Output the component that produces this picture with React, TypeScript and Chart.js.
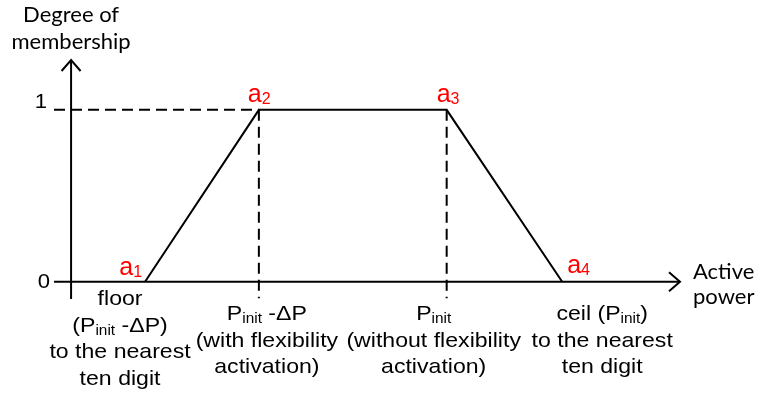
import React, { useEffect, useRef } from 'react';
import { Chart, registerables } from 'chart.js';

Chart.register(...registerables);

// ---------- data ----------
const pointNames = ['a', 'a', 'a', 'a'];
const pointSubs = ['1', '2', '3', '4'];
const activePower = [1.3, 3.3, 6.6, 8.63];
const membership = [0, 1, 1, 0];
const yTickValues = [0, 1];
const yTickLabels = ['0', '1'];
const xCategoryLabels: string[][] = [
  ['floor', '(P_{init} -ΔP)', 'to the nearest', 'ten digit'],
  ['P_{init} -ΔP', '(with flexibility', 'activation)'],
  ['P_{init}', '(without flexibility', 'activation)'],
  ['ceil (P_{init})', 'to the nearest', 'ten digit'],
];
const yTitle = ['Degree of', 'membership'];
const xTitle = ['Active', 'power'];

// ---------- layout / style ----------
const W = 758;
const H = 396;
const X_MIN = -0.3;
const X_MAX = 10.7;
const Y_MIN = -0.1;
const Y_MAX = 1.29;
const ARIAL = "'Liberation Sans', Arial, sans-serif";
const CALIBRI = "Lato, 'Open Sans', sans-serif";
const LABEL_DX = [-25, 8, -13, 40]; // px offset of category label centers
const LABEL_TOP = [305, 320, 320, 320]; // first baseline
const LINE_H = 26.5;
const PT_LABEL_DX = [-23, -11, -10, 5];
const PT_LABEL_BASE = [275, 102, 102, 273];

function drawRich(
  ctx: CanvasRenderingContext2D,
  text: string,
  x: number,
  baseline: number,
  size: number,
  align: 'left' | 'center' | 'right',
  sx: number,
  family: string,
  subSize: number,
  subDy: number
) {
  const parts: { t: string; sub: boolean }[] = [];
  const re = /_\{([^}]*)\}/g;
  let last = 0;
  let m: RegExpExecArray | null;
  while ((m = re.exec(text))) {
    if (m.index > last) parts.push({ t: text.slice(last, m.index), sub: false });
    parts.push({ t: m[1], sub: true });
    last = m.index + m[0].length;
  }
  if (last < text.length) parts.push({ t: text.slice(last), sub: false });
  let total = 0;
  const widths = parts.map((p) => {
    ctx.font = `${p.sub ? subSize : size}px ${family}`;
    const w = ctx.measureText(p.t).width;
    total += w;
    return w;
  });
  const tw = total * sx;
  let start = x;
  if (align === 'center') start = x - tw / 2;
  else if (align === 'right') start = x - tw;
  ctx.save();
  ctx.translate(start, baseline);
  ctx.scale(sx, 1);
  ctx.textAlign = 'left';
  ctx.textBaseline = 'alphabetic';
  let cx = 0;
  parts.forEach((p, i) => {
    ctx.font = `${p.sub ? subSize : size}px ${family}`;
    ctx.fillText(p.t, cx, p.sub ? subDy : 0);
    cx += widths[i];
  });
  ctx.restore();
}

const decorPlugin = {
  id: 'decor',
  beforeDatasetsDraw(chart: any) {
    const ctx: CanvasRenderingContext2D = chart.ctx;
    const xs = chart.scales.x;
    const ys = chart.scales.y;
    const px = (v: number) => xs.getPixelForValue(v);
    const py = (v: number) => ys.getPixelForValue(v);
    const x0 = px(0);
    const y0 = py(0);
    ctx.save();
    ctx.strokeStyle = '#000';
    ctx.lineWidth = 2;
    ctx.lineCap = 'butt';
    // x axis
    ctx.beginPath();
    ctx.moveTo(px(X_MIN), y0);
    ctx.lineTo(px(X_MAX), y0);
    ctx.stroke();
    ctx.beginPath();
    ctx.moveTo(px(X_MAX) - 11, y0 - 9.5);
    ctx.lineTo(px(X_MAX), y0);
    ctx.lineTo(px(X_MAX) - 11, y0 + 9.5);
    ctx.stroke();
    // y axis
    ctx.beginPath();
    ctx.moveTo(x0, py(Y_MIN));
    ctx.lineTo(x0, py(Y_MAX));
    ctx.stroke();
    ctx.beginPath();
    ctx.moveTo(x0 - 9.5, py(Y_MAX) + 11);
    ctx.lineTo(x0, py(Y_MAX));
    ctx.lineTo(x0 + 9.5, py(Y_MAX) + 11);
    ctx.stroke();
    // dashed guides
    ctx.setLineDash([11, 6]);
    ctx.beginPath();
    ctx.moveTo(px(X_MIN), py(1));
    ctx.lineTo(px(activePower[1]), py(1));
    ctx.stroke();
    [1, 2].forEach((i) => {
      ctx.beginPath();
      ctx.moveTo(px(activePower[i]), py(1));
      ctx.lineTo(px(activePower[i]), py(-0.095));
      ctx.stroke();
    });
    ctx.setLineDash([]);
    ctx.restore();
  },
  afterDraw(chart: any) {
    const ctx: CanvasRenderingContext2D = chart.ctx;
    const xs = chart.scales.x;
    const ys = chart.scales.y;
    const px = (v: number) => xs.getPixelForValue(v);
    const py = (v: number) => ys.getPixelForValue(v);
    ctx.save();
    ctx.fillStyle = '#000';
    // y tick labels
    yTickValues.forEach((v, i) => {
      const dx = v === 1 ? -3 : 0;
      drawRich(ctx, yTickLabels[i], 50 + dx, py(v) + (v === 1 ? -2 : 6), 21, 'right', 1.05, ARIAL, 14, 4);
    });
    // point labels
    ctx.fillStyle = '#ff0000';
    activePower.forEach((v, i) => {
      const txt = `${pointNames[i]}_{${pointSubs[i]}}`;
      const align = i === 0 ? 'right' : 'left';
      const x = i === 0 ? px(v) - 3 : px(v) + PT_LABEL_DX[i];
      drawRich(ctx, txt, x, PT_LABEL_BASE[i], 25, align, 1, ARIAL, 16, 2);
    });
    // category labels
    ctx.fillStyle = '#000';
    xCategoryLabels.forEach((lines, i) => {
      const cx = px(activePower[i]) + LABEL_DX[i];
      lines.forEach((ln, j) => {
        drawRich(ctx, ln, cx, LABEL_TOP[i] + j * LINE_H, 21, 'center', 1.1, ARIAL, 14, 3);
      });
    });
    // axis titles
    yTitle.forEach((ln, j) => {
      drawRich(ctx, ln, px(0), 22 + j * 27, 22, 'center', 1, CALIBRI, 14, 3);
    });
    xTitle.forEach((ln, j) => {
      drawRich(ctx, ln, 693, 279 + j * 25, 22, 'left', 1, CALIBRI, 14, 3);
    });
    ctx.restore();
  },
};

export default function App() {
  const ref = useRef<HTMLCanvasElement | null>(null);
  useEffect(() => {
    if (!ref.current) return;
    const chart = new Chart(ref.current, {
      type: 'line',
      data: {
        datasets: [
          {
            data: activePower.map((x, i) => ({ x, y: membership[i] })),
            borderColor: '#000',
            borderWidth: 2,
            pointRadius: 0,
            tension: 0,
            fill: false,
          },
        ],
      },
      options: {
        animation: false,
        responsive: false,
        devicePixelRatio: 1,
        layout: { padding: { left: 54, right: W - 680, top: 60, bottom: H - 299 } },
        plugins: { legend: { display: false }, tooltip: { enabled: false } },
        scales: {
          x: { type: 'linear', min: X_MIN, max: X_MAX, display: false },
          y: { type: 'linear', min: Y_MIN, max: Y_MAX, display: false },
        },
      },
      plugins: [decorPlugin],
    } as any);
    return () => chart.destroy();
  }, []);
  return (
    <div style={{ position: 'fixed', left: 0, top: 0, width: W, height: H, background: '#fff' }}>
      <canvas ref={ref} width={W} height={H} style={{ width: W, height: H, display: 'block' }} />
    </div>
  );
}
